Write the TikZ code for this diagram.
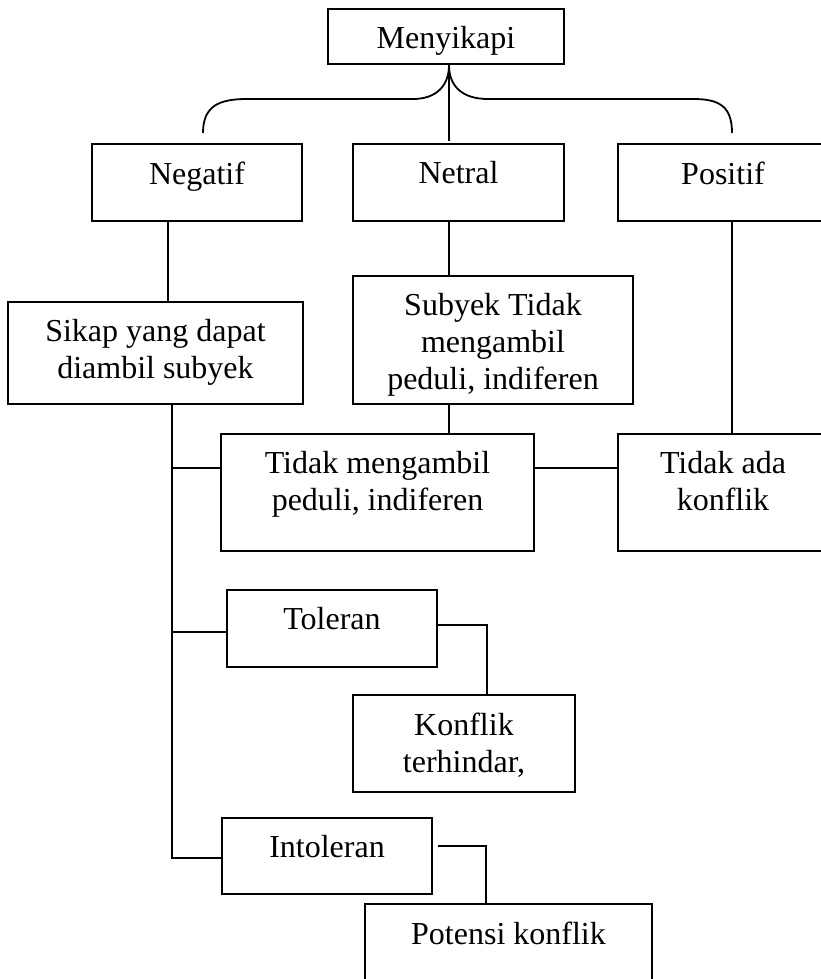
\documentclass[tikz,border=0pt]{standalone}
\usepackage{fontspec}
\setmainfont{Liberation Serif}
\usetikzlibrary{positioning}

\begin{document}
\begin{tikzpicture}[x=1pt,y=-1pt]
  \tikzset{box/.style={draw, line width=2.2pt, inner sep=0pt},
    lbl/.style={align=center, inner sep=0pt, font=\fontsize{32}{37}\selectfont},
    link/.style={line width=1.8pt}}
  \useasboundingbox (0,0) rectangle (821,979);
  % boxes
  \node[box, minimum width=236pt, minimum height=55pt] (top) at (446,36.5) {};
  \node[box, minimum width=210pt, minimum height=77pt] (neg) at (197,182.5) {};
  \node[box, minimum width=211pt, minimum height=77pt] (net) at (458.5,182.5) {};
  \node[box, minimum width=210pt, minimum height=77pt] (pos) at (723,182.5) {};
  \node[box, minimum width=295pt, minimum height=102pt] (sik) at (155.5,353) {};
  \node[box, minimum width=280pt, minimum height=128pt] (sub) at (493,340) {};
  \node[box, minimum width=313pt, minimum height=117pt] (tid) at (377.5,492.5) {};
  \node[box, minimum width=210pt, minimum height=117pt] (ada) at (723,492.5) {};
  \node[box, minimum width=210pt, minimum height=77pt] (tol) at (332,628.5) {};
  \node[box, minimum width=222pt, minimum height=97pt] (kon) at (464,743.5) {};
  \node[box, minimum width=210pt, minimum height=76pt] (int) at (327,856) {};
  \node[box, minimum width=287pt, minimum height=81pt] (pot) at (508.5,944.5) {};
  % texts
  \node[lbl, below=18.5pt of top.north] (topt) {Menyikapi};
  \node[lbl, below=18.5pt of neg.north] (negt) {Negatif};
  \node[lbl, below=18.5pt of net.north] (nett) {Netral};
  \node[lbl, below=18.5pt of pos.north] (post) {Positif};
  \node[lbl, below=18.5pt of sik.north] (sikt) {Sikap yang dapat\\diambil subyek};
  \node[lbl, below=18.5pt of sub.north] (subt) {Subyek Tidak\\mengambil\\peduli, indiferen};
  \node[lbl, below=18.5pt of tid.north] (tidt) {Tidak mengambil\\peduli, indiferen};
  \node[lbl, below=18.5pt of ada.north] (adat) {Tidak ada\\konflik};
  \node[lbl, below=18.5pt of tol.north] (tolt) {Toleran};
  \node[lbl, below=18.5pt of kon.north] (kont) {Konflik\\terhindar,};
  \node[lbl, below=18.5pt of int.north] (intt) {Intoleran};
  \node[lbl, below=18.5pt of pot.north] (pott) {Potensi konflik};
  % brace
  \coordinate (stem) at ([xshift=3pt]top.south);
  \coordinate (bl) at (203,133);
  \coordinate (br) at (732,133);
  \draw[link] (bl) .. controls (203,106) and (219,99) .. (247,99) -- (413,99)
    .. controls (436,99) and (449,86) .. (stem)
    .. controls (449,86) and (462,99) .. (488,99) -- (693,99)
    .. controls (719,99) and (732,106) .. (br);
  \draw[link] (stem) -- +(0,76);
  % links
  \draw[link] ([xshift=-29pt]neg.south) -- ([xshift=12.5pt]sik.north);
  \draw[link] (stem |- net.south) -- (stem |- sub.north);
  \draw[link] (stem |- sub.south) -- (stem |- tid.north);
  \draw[link] (br |- pos.south) -- (br |- ada.north);
  \draw[link] ([yshift=24.5pt]tid.east) -- ([yshift=24.5pt]ada.west);
  \coordinate (trk) at ([xshift=16.5pt]sik.south);
  \draw[link] (trk) |- ([yshift=-2pt]int.west);
  \draw[link] ([yshift=24.5pt]tid.west) -- +(-49,0);
  \draw[link] ([yshift=-3.5pt]tol.west) -- +(-55,0);
  \draw[link] ([yshift=3.5pt]tol.east) -| ([xshift=23pt]kon.north);
  \draw[link] ([xshift=5pt,yshift=10pt]int.east) -| ([xshift=-22.5pt]pot.north);
\end{tikzpicture}
\end{document}
